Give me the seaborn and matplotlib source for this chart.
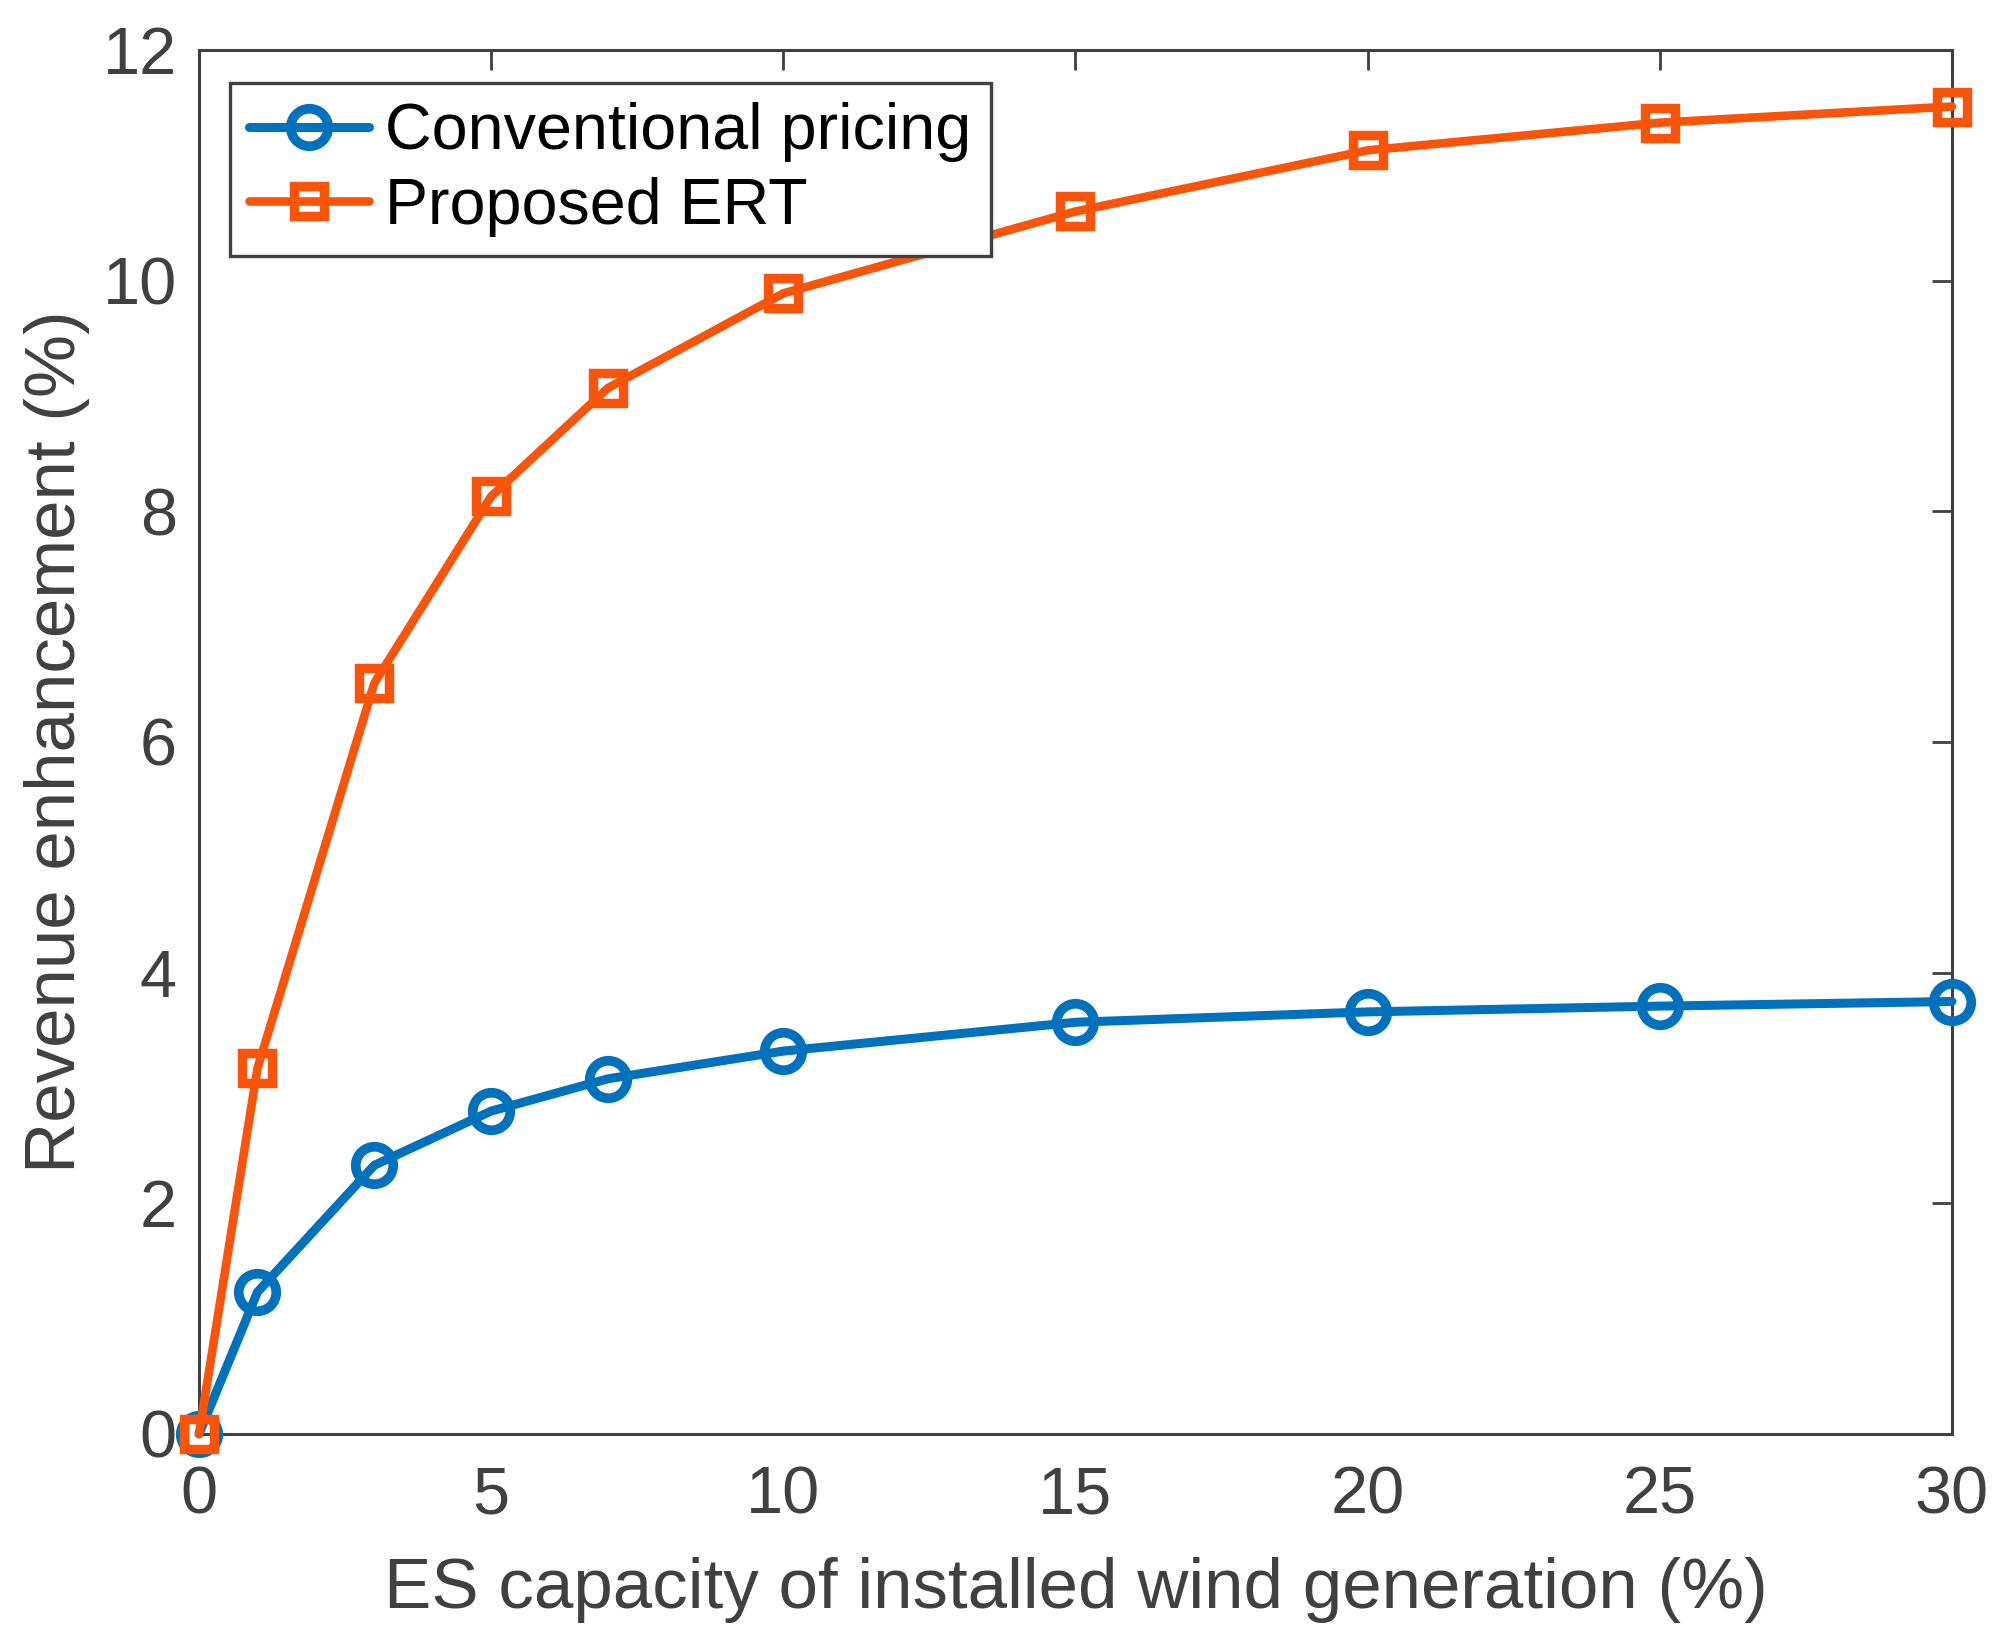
import matplotlib
matplotlib.use("Agg")
import matplotlib.pyplot as plt
import seaborn as sns

# data
es_capacity = [0, 1, 3, 5, 7, 10, 15, 20, 25, 30]
conventional = [0.0, 1.23, 2.33, 2.80, 3.08, 3.32, 3.57, 3.66, 3.71, 3.75]
proposed_ert = [0.0, 3.17, 6.51, 8.13, 9.07, 9.89, 10.60, 11.13, 11.37, 11.51]

x_ticks = [0, 5, 10, 15, 20, 25, 30]
y_ticks = [0, 2, 4, 6, 8, 10, 12]

sns.set_style("white")
plt.rcParams["font.family"] = ["Liberation Sans", "DejaVu Sans"]

gray = "#404040"
blue = "#0072BD"
orange = "#F9540A"

fig = plt.figure(figsize=(20.15, 16.52), dpi=100)
ax = fig.add_axes([199 / 2015, 1 - 1434 / 1652, (1952 - 199) / 2015, (1434 - 50) / 1652])

sns.lineplot(x=es_capacity, y=conventional, ax=ax, color=blue, linewidth=6.5,
             marker="o", markersize=27, markerfacecolor="none",
             markeredgecolor=blue, markeredgewidth=7, clip_on=False,
             label="Conventional pricing", zorder=3)
sns.lineplot(x=es_capacity, y=proposed_ert, ax=ax, color=orange, linewidth=6.2,
             marker="s", markersize=22, markerfacecolor="none",
             markeredgecolor=orange, markeredgewidth=6.8, clip_on=False,
             label="Proposed ERT", zorder=4)

ax.set_xlim(0, 30)
ax.set_ylim(0, 12)
ax.set_xticks(x_ticks)
ax.set_yticks(y_ticks)

for s in ax.spines.values():
    s.set_color(gray)
    s.set_linewidth(2.2)
    s.set_visible(True)

ax.tick_params(direction="in", length=14.5, width=2.0, color=gray,
               labelcolor=gray, labelsize=48, top=True, right=True)
ax.tick_params(axis="x", pad=23)
ax.tick_params(axis="y", pad=16)

ax.set_xlabel("ES capacity of installed wind generation (%)", fontsize=51,
              color=gray, labelpad=21)
ax.set_ylabel("Revenue enhancement (%)", fontsize=51, color=gray, labelpad=9)

leg = ax.legend(loc="upper left", bbox_to_anchor=(31 / 1753, (1434 - 83) / 1384),
                borderaxespad=0, fontsize=46.5, frameon=True, fancybox=False,
                handlelength=1.85, handletextpad=0.25, borderpad=0.3,
                labelspacing=0.22)
leg.get_frame().set_edgecolor(gray)
leg.get_frame().set_linewidth(2.4)
leg.get_frame().set_alpha(1)
for t in leg.get_texts():
    t.set_color("black")

fig.savefig("out.png", dpi=100)
